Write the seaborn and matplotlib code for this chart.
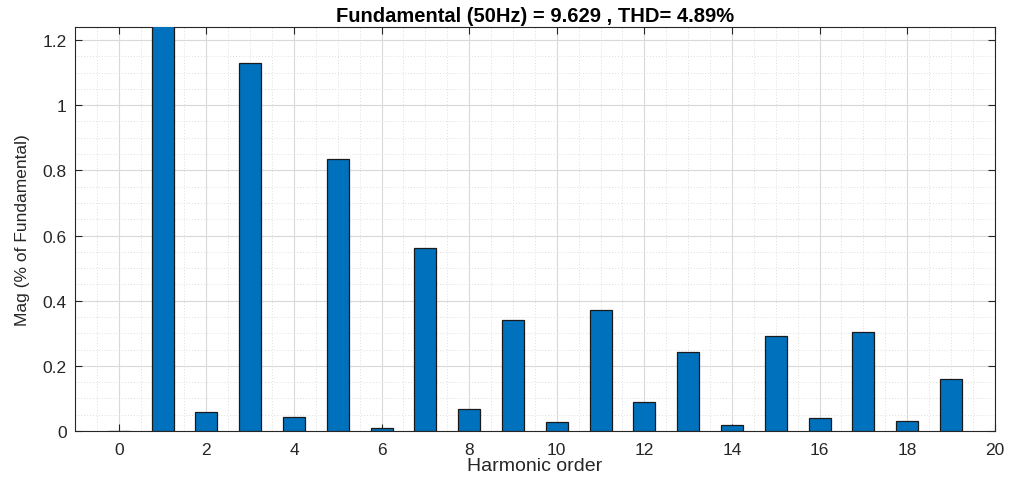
import numpy as np
import pandas as pd
import matplotlib
matplotlib.use("Agg")
import matplotlib.pyplot as plt
from matplotlib.ticker import MultipleLocator, FuncFormatter
import seaborn as sns

# Harmonic spectrum (% of fundamental); the fundamental itself is 100 %
harmonic_order = list(range(0, 20))
magnitude = [0.0, 100.0, 0.058, 1.129, 0.043, 0.834, 0.009, 0.561, 0.067, 0.340,
             0.028, 0.371, 0.089, 0.242, 0.018, 0.291, 0.040, 0.304, 0.031, 0.160]
x_ticks = list(range(0, 21, 2))
y_ticks = [0, 0.2, 0.4, 0.6, 0.8, 1.0, 1.2]
title_text = "Fundamental (50Hz) = 9.629 , THD= 4.89%"

sns.set_theme(style="white")
plt.rcParams["font.family"] = ["Liberation Sans", "DejaVu Sans"]

df = pd.DataFrame({"order": harmonic_order, "mag": magnitude})

fig = plt.figure(figsize=(10.12, 4.85), dpi=100)
ax = fig.add_axes([0.0741, 0.1093, 0.9089, 0.833])

sns.barplot(data=df, x="order", y="mag", native_scale=True, width=0.5,
            color="#0072BD", saturation=1, edgecolor="#1a1a1a", linewidth=0.9,
            ax=ax, zorder=3)

ax.set_xlim(-1, 20)
ax.set_ylim(0, 1.24)
ax.set_xticks(x_ticks)
ax.set_yticks(y_ticks)
ax.yaxis.set_major_formatter(FuncFormatter(lambda v, p: f"{v:g}"))
ax.xaxis.set_minor_locator(MultipleLocator(0.5))
ax.yaxis.set_minor_locator(MultipleLocator(0.05))

ax.grid(True, which="major", color="#d9d9d9", linewidth=0.8, zorder=0)
ax.grid(True, which="minor", color="#dedede", linewidth=0.7, linestyle=(0, (1, 2)), zorder=0)
ax.set_axisbelow(True)

for s in ax.spines.values():
    s.set_visible(True)
    s.set_color("#262626")
    s.set_linewidth(0.8)

ax.tick_params(axis="both", which="major", direction="in", length=5, width=0.8,
               color="#262626", labelcolor="#262626", labelsize=12.5,
               top=True, right=True, bottom=True, left=True)
ax.tick_params(axis="x", which="major", pad=8)
ax.tick_params(axis="y", which="major", pad=6)
ax.tick_params(axis="both", which="minor", length=0)

ax.set_xlabel("Harmonic order", fontsize=14, color="#262626", labelpad=0)
ax.set_ylabel("Mag (% of Fundamental)", fontsize=12.5, color="#262626", labelpad=9)
ax.set_title(title_text, fontsize=14.5, fontweight="bold", color="#000000", pad=4)

fig.savefig("out.png", dpi=100, facecolor="white")
